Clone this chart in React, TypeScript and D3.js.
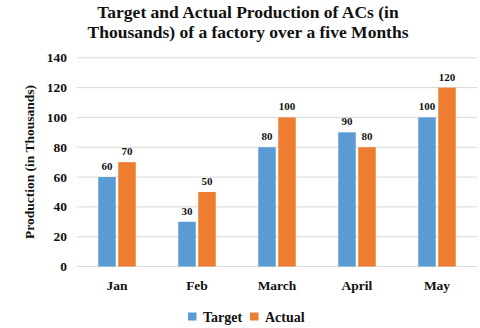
import React from "react";
import * as d3 from "d3";

const months = ["Jan", "Feb", "March", "April", "May"];
const target = [60, 30, 80, 90, 100];
const actual = [70, 50, 100, 80, 120];
const seriesNames = ["Target", "Actual"];
const yTicks = [0, 20, 40, 60, 80, 100, 120, 140];

const W = 480, H = 328;
const colors = ["#5b9bd5", "#ed7d31"];
const font = "'Liberation Serif', 'Times New Roman', serif";

export default function App() {
  const x = d3.scaleBand<string>().domain(months).range([77, 477]).padding(0);
  const y = d3.scaleLinear().domain([0, 140]).range([266.5, 57.8]);
  const series = [target, actual];
  const barW = 17.5;
  const gap = 2.5;
  return (
    <svg width={W} height={H} style={{ position: "absolute", left: 0, top: 0 }} fontFamily={font}>
      <rect width={W} height={H} fill="#fff" />
      <text x={248} y={17.5} textAnchor="middle" fontSize={17.5} fontWeight="bold" fill="#111">
        Target and Actual Production of ACs (in
      </text>
      <text x={248} y={37.5} textAnchor="middle" fontSize={17.5} fontWeight="bold" fill="#111">
        Thousands) of a factory over a five Months
      </text>
      {yTicks.map((t) => (
        <g key={t}>
          <line x1={77} x2={477} y1={y(t)} y2={y(t)} stroke="#d9d9d9" strokeWidth={1} />
          <text x={67} y={y(t) + 4.5} textAnchor="end" fontSize={13.5} fontWeight="bold" fill="#111">
            {t}
          </text>
        </g>
      ))}
      <text
        transform={`translate(34,162) rotate(-90)`}
        textAnchor="middle"
        fontSize={13.5}
        fontWeight="bold"
        fill="#111"
      >
        Production (in Thousands)
      </text>
      {months.map((m, i) => {
        const cx = (x(m) as number) + x.bandwidth() / 2;
        return (
          <g key={m}>
            {series.map((s, j) => {
              const bx = j === 0 ? cx - gap / 2 - barW : cx + gap / 2;
              return (
                <g key={j}>
                  <rect x={bx} y={y(s[i])} width={barW} height={y(0) - y(s[i])} fill={colors[j]} />
                  <text
                    x={bx + barW / 2}
                    y={y(s[i]) - 7}
                    textAnchor="middle"
                    fontSize={11}
                    fontWeight="bold"
                    fill="#111"
                  >
                    {s[i]}
                  </text>
                </g>
              );
            })}
            <text x={cx} y={290} textAnchor="middle" fontSize={13.5} fontWeight="bold" fill="#111">
              {m}
            </text>
          </g>
        );
      })}
      {seriesNames.map((n, j) => {
        const lx = j === 0 ? 188 : 250;
        return (
          <g key={n}>
            <rect x={lx} y={312.5} width={8.5} height={8} fill={colors[j]} />
            <text x={lx + 15} y={321.5} fontSize={14} fontWeight="bold" fill="#111">
              {n}
            </text>
          </g>
        );
      })}
    </svg>
  );
}
